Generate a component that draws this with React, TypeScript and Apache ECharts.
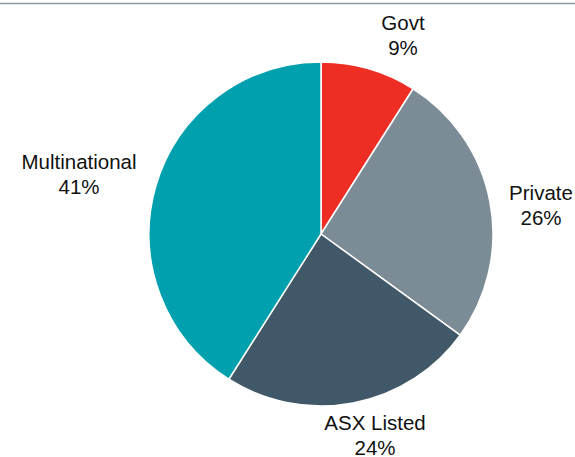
import React, { useEffect, useRef } from "react";
import * as echarts from "echarts";

const categories = ["Govt", "Private", "ASX Listed", "Multinational"];
const shares = [9, 26, 24, 41];
const colors = ["#ee2e24", "#7b8c96", "#415868", "#00a0ae"];

// label centres relative to pie centre (layout only)
const labelOffsets = [
  [82, -199],
  [220, -29],
  [54, 201],
  [-242, -60],
];

const W = 575;
const H = 457;
const CX = 321;
const CY = 234;
const R = 172;

export default function App() {
  const ref = useRef<HTMLDivElement>(null);
  useEffect(() => {
    if (!ref.current) return;
    const chart = echarts.init(ref.current, null, { renderer: "svg" });
    chart.setOption({
      animation: false,
      backgroundColor: "#ffffff",
      graphic: [
        {
          type: "line",
          shape: { x1: 0, y1: 3.5, x2: W, y2: 3.5 },
          style: { stroke: "#8e9ca6", lineWidth: 1.5 },
        },
      ],
      series: [
        {
          type: "pie",
          center: [CX, CY],
          radius: [0, R],
          startAngle: 90,
          clockwise: true,
          avoidLabelOverlap: false,
          data: categories.map((name, i) => ({
            name,
            value: shares[i],
            itemStyle: { color: colors[i] },
          })),
          itemStyle: { borderColor: "#ffffff", borderWidth: 1.5 },
          label: {
            show: true,
            position: "outside",
            formatter: "{b}\n{d}%",
            fontFamily: "Liberation Sans, Arial, sans-serif",
            fontSize: 20.5,
            lineHeight: 25,
            color: "#111111",
            align: "center",
            overflow: "none",
            width: 200,
          },
          labelLine: { show: false },
          labelLayout: (params: any) => {
            const off = labelOffsets[params.dataIndex];
            return {
              x: CX + off[0],
              y: CY + off[1],
              align: "center",
              verticalAlign: "middle",
              hideOverlap: false,
            };
          },
          emphasis: { disabled: true },
        },
      ],
    });
    return () => chart.dispose();
  }, []);
  return (
    <div
      ref={ref}
      style={{ position: "fixed", left: 0, top: 0, width: W, height: H }}
    />
  );
}
